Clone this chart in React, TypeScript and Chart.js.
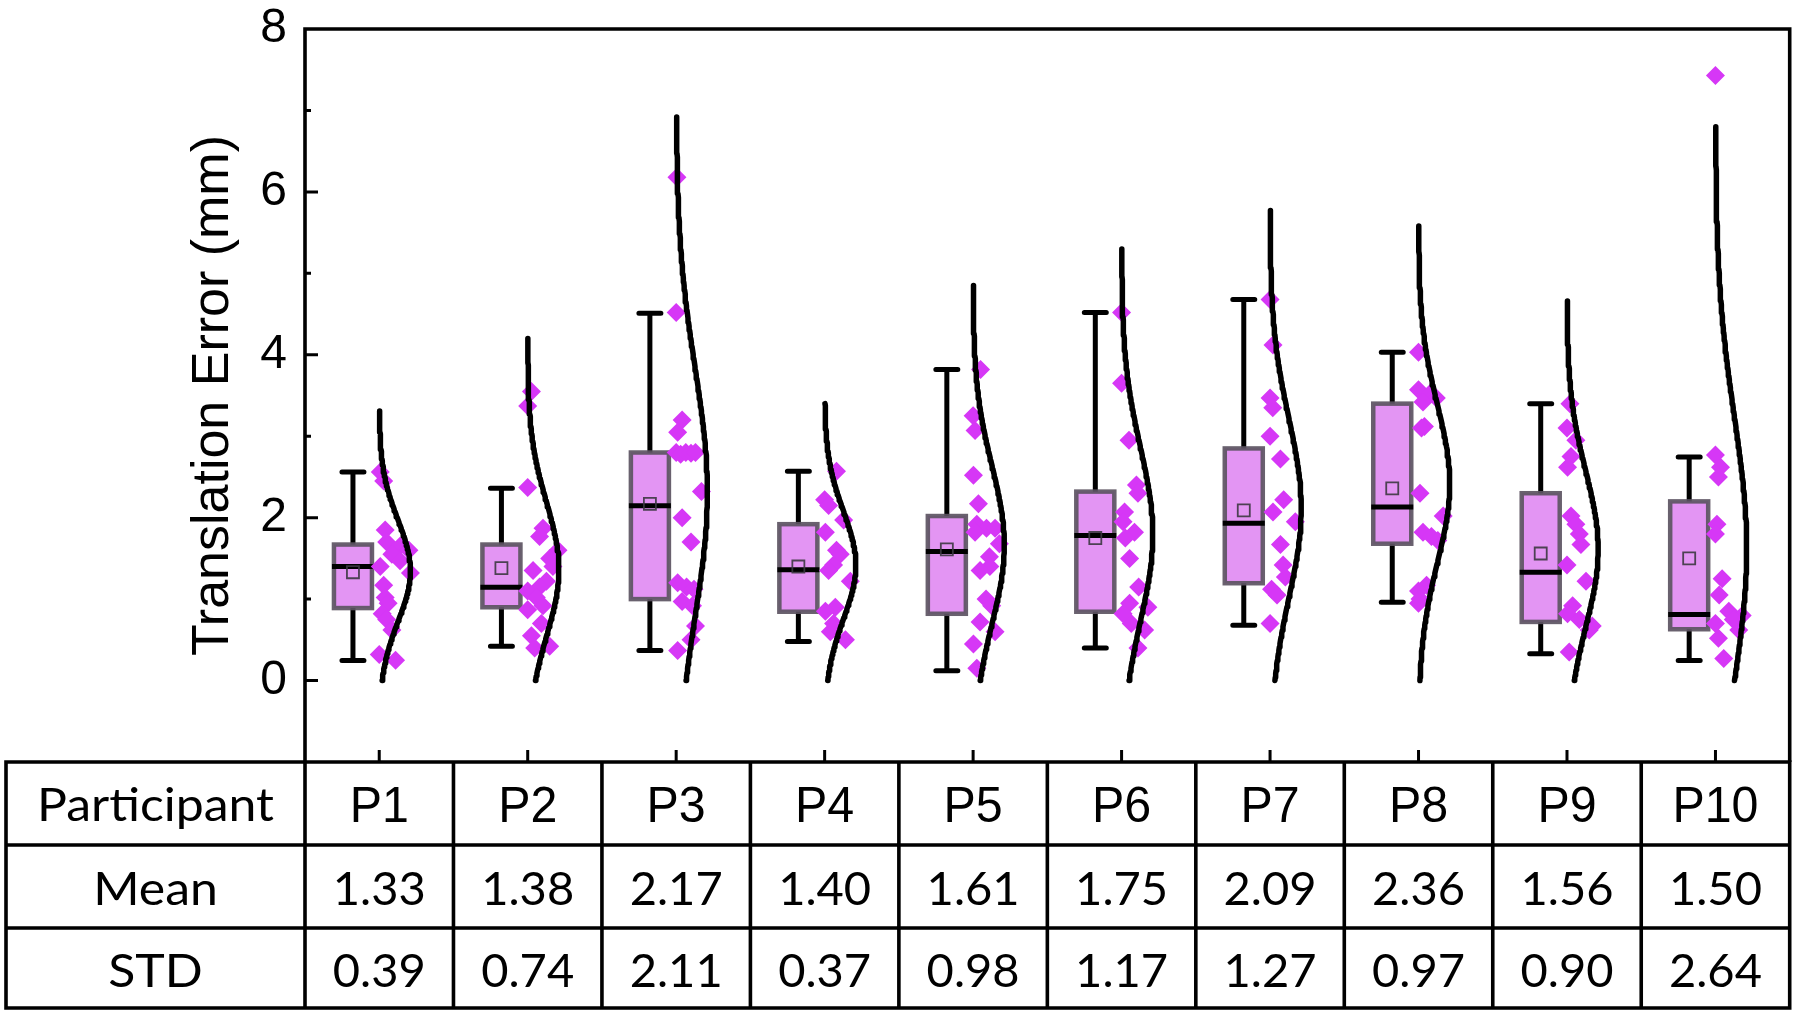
import React, { useEffect, useRef } from 'react';
import { Chart, registerables } from 'chart.js';

Chart.register(...registerables);

// ---------------- data ----------------
const participants = ['P1', 'P2', 'P3', 'P4', 'P5', 'P6', 'P7', 'P8', 'P9', 'P10'];
const meanLabels = ['1.33', '1.38', '2.17', '1.40', '1.61', '1.75', '2.09', '2.36', '1.56', '1.50'];
const stdLabels = ['0.39', '0.74', '2.11', '0.37', '0.98', '1.17', '1.27', '0.97', '0.90', '2.64'];
const meanValues = [1.33, 1.38, 2.17, 1.4, 1.61, 1.75, 2.09, 2.36, 1.56, 1.5];

const boxQ1 = [0.89, 0.9, 1.0, 0.845, 0.82, 0.845, 1.195, 1.68, 0.72, 0.63];
const boxMedian = [1.4, 1.145, 2.145, 1.36, 1.585, 1.78, 1.93, 2.13, 1.33, 0.81];
const boxQ3 = [1.67, 1.67, 2.8, 1.92, 2.02, 2.32, 2.85, 3.4, 2.3, 2.2];
const whiskerLow = [0.245, 0.42, 0.37, 0.48, 0.12, 0.4, 0.68, 0.96, 0.33, 0.245];
const whiskerHigh = [2.56, 2.36, 4.51, 2.57, 3.82, 4.52, 4.68, 4.03, 3.4, 2.745];

// normal-curve parameters
const curveMu = [1.35, 1.37, 2.32, 1.42, 1.67, 1.8, 2.12, 2.42, 1.62, 1.62];
const curveSigma = [0.62, 0.82, 1.53, 0.66, 0.97, 1.065, 1.1, 0.97, 0.95, 1.63];
const curveTop = [3.31, 4.2, 6.92, 3.4, 4.85, 5.3, 5.77, 5.58, 4.66, 6.8];

const pointValues: number[][] = [
  [2.56, 2.45, 1.85, 1.7, 1.65, 1.6, 1.55, 1.47, 1.4, 1.32, 1.17, 1.02, 0.95, 0.82, 0.75, 0.62, 0.32, 0.25],
  [3.55, 3.37, 2.37, 1.87, 1.77, 1.6, 1.5, 1.4, 1.35, 1.22, 1.15, 1.1, 1.02, 0.92, 0.87, 0.7, 0.55, 0.42, 0.4],
  [6.18, 4.52, 3.2, 3.05, 2.8, 2.78, 2.8, 2.79, 2.8, 2.32, 2.0, 1.7, 1.2, 1.15, 1.12, 0.97, 0.92, 0.67, 0.5, 0.37],
  [2.57, 2.22, 2.15, 1.97, 1.82, 1.6, 1.55, 1.42, 1.35, 1.22, 0.9, 0.85, 0.7, 0.6, 0.5],
  [3.82, 3.25, 3.07, 2.52, 2.17, 1.92, 1.87, 1.82, 1.87, 1.68, 1.52, 1.4, 1.35, 1.0, 0.92, 0.72, 0.6, 0.45, 0.15],
  [4.52, 3.65, 2.95, 2.4, 2.3, 2.07, 1.95, 1.82, 1.75, 1.5, 1.15, 0.95, 0.9, 0.82, 0.7, 0.62, 0.4],
  [4.68, 4.12, 3.47, 3.35, 3.0, 2.72, 2.22, 2.07, 1.95, 1.67, 1.42, 1.27, 1.12, 1.05, 0.7],
  [4.03, 3.57, 3.52, 3.47, 3.42, 3.12, 3.1, 2.3, 2.02, 1.82, 1.77, 1.72, 1.17, 1.1, 1.0, 0.95],
  [3.4, 3.1, 2.95, 2.75, 2.62, 2.02, 1.92, 1.8, 1.67, 1.42, 1.22, 0.92, 0.82, 0.75, 0.67, 0.62, 0.35],
  [7.43, 2.77, 2.62, 2.5, 1.92, 1.8, 1.25, 1.05, 0.85, 0.8, 0.75, 0.7, 0.62, 0.52, 0.27],
];
const pointJitter: number[][] = [
  [0.007, 0.03, 0.04, 0.05, 0.14, 0.2, 0.085, 0.14, 0.007, 0.21, 0.03, 0.04, 0.06, 0.02, 0.05, 0.085, 0.0, 0.11],
  [0.025, 0.0, 0.0, 0.103, 0.08, 0.204, 0.148, 0.17, 0.036, 0.126, 0.08, 0.0, 0.058, 0.103, 0.0, 0.092, 0.025, 0.148, 0.047],
  [0.005, 0.0, 0.04, 0.01, 0.0, 0.03, 0.065, 0.1, 0.13, 0.17, 0.04, 0.1, 0.01, 0.07, 0.12, 0.04, 0.11, 0.13, 0.1, 0.01],
  [0.08, 0.0, 0.027, 0.128, 0.005, 0.08, 0.105, 0.06, 0.027, 0.173, 0.072, 0.005, 0.06, 0.038, 0.14],
  [0.05, 0.0, 0.013, 0.002, 0.036, 0.025, 0.09, 0.013, 0.148, 0.177, 0.11, 0.113, 0.047, 0.087, 0.125, 0.047, 0.148, 0.002, 0.025],
  [0.0, 0.0, 0.05, 0.1, 0.11, 0.02, 0.01, 0.087, 0.025, 0.054, 0.115, 0.054, 0.177, 0.01, 0.065, 0.155, 0.11],
  [0.0, 0.02, 0.0, 0.018, 0.0, 0.07, 0.092, 0.02, 0.17, 0.07, 0.088, 0.103, 0.01, 0.047, 0.0],
  [0.0, 0.0, 0.076, 0.12, 0.03, 0.04, 0.02, 0.01, 0.166, 0.03, 0.087, 0.13, 0.054, 0.0, 0.01, 0.0],
  [0.02, 0.0, 0.06, 0.027, 0.004, 0.027, 0.06, 0.083, 0.094, 0.0, 0.128, 0.038, 0.004, 0.083, 0.17, 0.15, 0.015],
  [0.0, 0.0, 0.034, 0.02, 0.01, 0.0, 0.045, 0.025, 0.09, 0.18, 0.12, 0.0, 0.157, 0.02, 0.056],
];

// ---------------- styles / layout ----------------
const W = 1800;
const H = 1016;
const AREA_LEFT = 305;
const AREA_TOP = 29;
const AREA_BOTTOM = 762;
const AREA_RIGHT = 1792;
const TABLE_LEFT = 6;
const ROW_LINES = [762, 845, 928, 1008];
const ROW_BASELINES = [821, 905, 987];

const BOX_OFFSET = -0.177;
const BOX_HALF = 0.128;
const CAP_HALF = 0.074;
const CURVE_AMP = 0.21;

const DIAMOND_COLOR = '#D637F6';
const BOX_FILL = '#E395F3';
const BOX_EDGE = 'rgba(92,84,98,0.92)';
const AXIS_FONT = "'Liberation Sans', Arial, sans-serif";
const TABLE_FONT = "Lato, 'Open Sans', sans-serif";

function curveData(i: number) {
  const pts: { x: number; y: number }[] = [];
  const n = 140;
  for (let k = 0; k <= n; k++) {
    const y = (curveTop[i] * k) / n;
    const z = (y - curveMu[i]) / curveSigma[i];
    pts.push({ x: i + CURVE_AMP * Math.exp(-0.5 * z * z), y });
  }
  return pts;
}

function drawScaledText(ctx: CanvasRenderingContext2D, text: string, cx: number, baseline: number, font: string, sx: number) {
  ctx.save();
  ctx.font = font;
  ctx.textAlign = 'center';
  ctx.textBaseline = 'alphabetic';
  ctx.fillStyle = '#000';
  ctx.translate(cx, baseline);
  ctx.scale(sx, 1);
  ctx.fillText(text, 0, 0);
  ctx.restore();
}

const boxPlugin = {
  id: 'boxes',
  beforeDatasetsDraw(chart: any) {
    const ctx: CanvasRenderingContext2D = chart.ctx;
    const xs = chart.scales.x;
    const ys = chart.scales.y;
    ctx.save();
    for (let i = 0; i < participants.length; i++) {
      const cx = xs.getPixelForValue(i + BOX_OFFSET);
      const hw = xs.getPixelForValue(i + BOX_OFFSET + BOX_HALF) - cx;
      const cw = xs.getPixelForValue(i + BOX_OFFSET + CAP_HALF) - cx;
      const yq1 = ys.getPixelForValue(boxQ1[i]);
      const yq3 = ys.getPixelForValue(boxQ3[i]);
      const ymed = ys.getPixelForValue(boxMedian[i]);
      const ylo = ys.getPixelForValue(whiskerLow[i]);
      const yhi = ys.getPixelForValue(whiskerHigh[i]);
      // whiskers
      ctx.strokeStyle = '#000';
      ctx.lineWidth = 5;
      ctx.lineCap = 'round';
      ctx.beginPath();
      ctx.moveTo(cx, yhi);
      ctx.lineTo(cx, yq3);
      ctx.moveTo(cx, yq1);
      ctx.lineTo(cx, ylo);
      ctx.moveTo(cx - cw, yhi);
      ctx.lineTo(cx + cw, yhi);
      ctx.moveTo(cx - cw, ylo);
      ctx.lineTo(cx + cw, ylo);
      ctx.stroke();
      // box
      ctx.fillStyle = BOX_FILL;
      ctx.fillRect(cx - hw, yq3, 2 * hw, yq1 - yq3);
      ctx.strokeStyle = BOX_EDGE;
      ctx.lineWidth = 4.5;
      ctx.lineCap = 'butt';
      ctx.strokeRect(cx - hw, yq3, 2 * hw, yq1 - yq3);
      // median
      ctx.strokeStyle = '#000';
      ctx.lineWidth = 5;
      ctx.beginPath();
      ctx.moveTo(cx - hw - 2, ymed);
      ctx.lineTo(cx + hw + 2, ymed);
      ctx.stroke();
    }
    ctx.restore();
  },
};

const framePlugin = {
  id: 'frameTable',
  afterDraw(chart: any) {
    const ctx: CanvasRenderingContext2D = chart.ctx;
    const xs = chart.scales.x;
    const ys = chart.scales.y;
    const area = chart.chartArea;
    ctx.save();
    ctx.strokeStyle = '#000';
    ctx.lineCap = 'butt';
    // frame (left, top, right)
    ctx.lineWidth = 3.6;
    ctx.beginPath();
    ctx.moveTo(area.left, area.bottom);
    ctx.lineTo(area.left, area.top);
    ctx.lineTo(area.right, area.top);
    ctx.lineTo(area.right, area.bottom);
    ctx.stroke();
    // y ticks (inward)
    ctx.lineWidth = 3;
    ctx.beginPath();
    for (let v = 0; v <= 7; v++) {
      const y = ys.getPixelForValue(v);
      const len = v % 2 === 0 ? 13 : 6;
      ctx.moveTo(area.left, y);
      ctx.lineTo(area.left + len, y);
    }
    // x ticks (upward from bottom)
    for (let i = 0; i < participants.length; i++) {
      const x = xs.getPixelForValue(i);
      ctx.moveTo(x, area.bottom);
      ctx.lineTo(x, area.bottom - 12);
    }
    ctx.stroke();

    // table grid
    ctx.lineWidth = 3.6;
    ctx.beginPath();
    const right = xs.getPixelForValue(participants.length - 0.5);
    for (const y of ROW_LINES) {
      ctx.moveTo(TABLE_LEFT - 1.8, y);
      ctx.lineTo(right + 1.8, y);
    }
    const top = ROW_LINES[0];
    const bottom = ROW_LINES[ROW_LINES.length - 1];
    ctx.moveTo(TABLE_LEFT, top);
    ctx.lineTo(TABLE_LEFT, bottom);
    for (let k = 0; k <= participants.length; k++) {
      const x = xs.getPixelForValue(k - 0.5);
      ctx.moveTo(x, top);
      ctx.lineTo(x, bottom);
    }
    ctx.stroke();

    // table text
    const labelFont = `46px ${TABLE_FONT}`;
    const numFont = `47px ${TABLE_FONT}`;
    const pFont = `50px ${AXIS_FONT}`;
    ctx.font = labelFont;
    const labelScale = 237 / ctx.measureText('Participant').width;
    ctx.font = numFont;
    const numScale = 93 / ctx.measureText('1.33').width;
    ctx.font = pFont;
    const pScale = 86 / ctx.measureText('P10').width;
    const firstCx = (TABLE_LEFT + xs.getPixelForValue(-0.5)) / 2;
    drawScaledText(ctx, 'Participant', firstCx, ROW_BASELINES[0], labelFont, labelScale);
    drawScaledText(ctx, 'Mean', firstCx, ROW_BASELINES[1], labelFont, labelScale);
    drawScaledText(ctx, 'STD', firstCx, ROW_BASELINES[2], labelFont, labelScale);
    for (let i = 0; i < participants.length; i++) {
      const cx = xs.getPixelForValue(i);
      drawScaledText(ctx, participants[i], cx, ROW_BASELINES[0] + 1, pFont, pScale);
      drawScaledText(ctx, meanLabels[i], cx, ROW_BASELINES[1], numFont, numScale);
      drawScaledText(ctx, stdLabels[i], cx, ROW_BASELINES[2], numFont, numScale);
    }
    ctx.restore();
  },
};

export default function App() {
  const canvasRef = useRef<HTMLCanvasElement | null>(null);

  useEffect(() => {
    const canvas = canvasRef.current;
    if (!canvas) return;

    const curveSets = participants.map((_, i) => ({
      label: 'curve ' + participants[i],
      data: curveData(i),
      showLine: true,
      borderColor: '#000',
      borderWidth: 5.5,
      borderCapStyle: 'round',
      borderJoinStyle: 'round',
      pointRadius: 0,
      tension: 0,
      order: 0,
    }));

    const pointData: { x: number; y: number }[] = [];
    pointValues.forEach((vals, i) => {
      vals.forEach((v, k) => pointData.push({ x: i + pointJitter[i][k], y: v }));
    });

    const meanData = meanValues.map((m, i) => ({ x: i + BOX_OFFSET, y: m }));

    const chart = new Chart(canvas, {
      type: 'scatter',
      data: {
        datasets: [
          ...curveSets,
          {
            label: 'points',
            data: pointData,
            pointStyle: 'rectRot',
            pointRadius: 9.5,
            backgroundColor: DIAMOND_COLOR,
            borderWidth: 0,
            order: 1,
          },
          {
            label: 'mean',
            data: meanData,
            pointStyle: 'rect',
            pointRadius: 8.5,
            backgroundColor: 'rgba(0,0,0,0)',
            borderColor: 'rgba(60,55,65,0.9)',
            borderWidth: 1.8,
            order: 2,
          },
        ] as any,
      },
      options: {
        animation: false,
        responsive: false,
        devicePixelRatio: 1,
        events: [],
        layout: {
          padding: { top: AREA_TOP, right: W - AREA_RIGHT, bottom: H - AREA_BOTTOM, left: 0 },
        },
        plugins: {
          legend: { display: false },
          tooltip: { enabled: false },
        },
        scales: {
          x: { type: 'linear', min: -0.5, max: 9.5, display: false },
          y: {
            type: 'linear',
            min: -1,
            max: 8,
            afterFit: (scale: any) => {
              scale.width = AREA_LEFT;
              scale.paddingTop = 0;
              scale.paddingBottom = 0;
            },
            ticks: {
              stepSize: 1,
              autoSkip: false,
              padding: 18,
              color: '#000',
              font: { family: AXIS_FONT, size: 48 },
              callback: (v: any) => (v >= 0 && v % 2 === 0 ? String(v) : ''),
            },
            grid: { display: false, drawTicks: false },
            border: { display: false },
            title: {
              display: true,
              text: 'Translation Error (mm)',
              color: '#000',
              font: { family: AXIS_FONT, size: 52 },
              padding: { top: 182, bottom: 0 },
            },
          },
        },
      } as any,
      plugins: [boxPlugin, framePlugin],
    });

    return () => chart.destroy();
  }, []);

  return (
    <div style={{ position: 'fixed', left: 0, top: 0, width: W, height: H, background: '#fff' }}>
      <canvas ref={canvasRef} width={W} height={H} style={{ display: 'block', width: W, height: H }} />
    </div>
  );
}
